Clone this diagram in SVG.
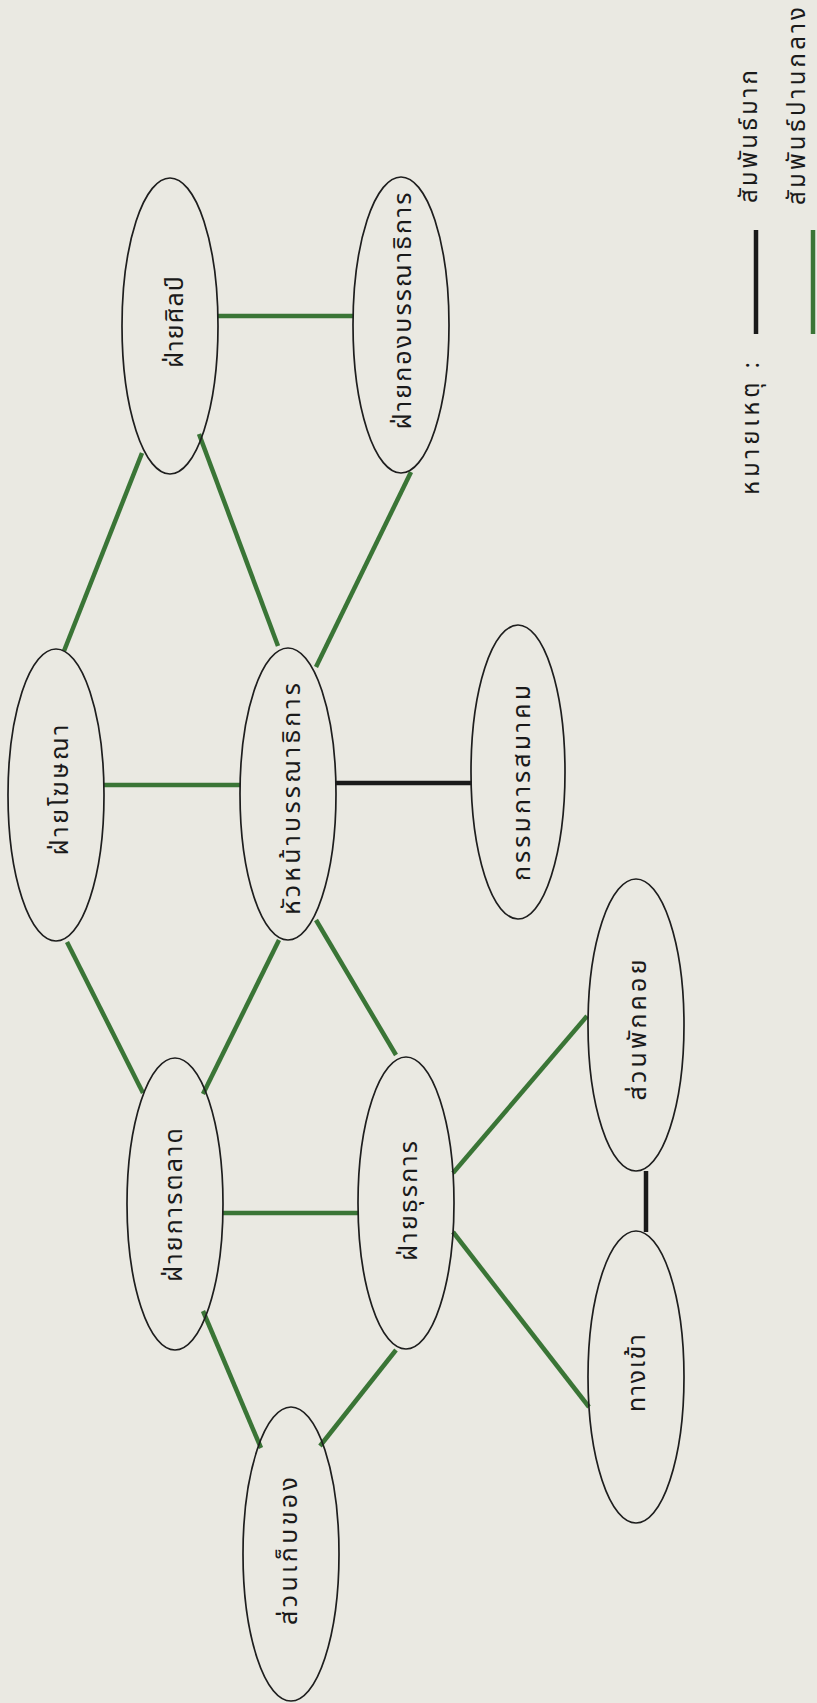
<svg xmlns="http://www.w3.org/2000/svg" width="817" height="1703" viewBox="0 0 817 1703">
<style>
.bg{fill:#eae9e2}
.node ellipse{fill:none;stroke:#1e1e1e;stroke-width:1.7}
.lbl{font-family:"Noto Sans Thai","Noto Sans","DejaVu Sans",sans-serif;font-size:25px;fill:#1a1a1a;text-anchor:middle}
.leg{font-family:"Noto Sans Thai","Noto Sans","DejaVu Sans",sans-serif;font-size:24px;fill:#1a1a1a;text-anchor:start}
.mid{stroke:#3a7536;stroke-width:4.5;stroke-linecap:butt;fill:none}
.high{stroke:#1a1a1a;stroke-width:4.5;stroke-linecap:butt;fill:none}
</style>
<rect class="bg" x="0" y="0" width="817" height="1703"/>
<g id="connectors">
<line class="mid" x1="218" y1="316" x2="353" y2="316"/>
<line class="mid" x1="142" y1="453" x2="64" y2="651"/>
<line class="mid" x1="199" y1="434" x2="278" y2="646"/>
<line class="mid" x1="411" y1="472" x2="316" y2="667"/>
<line class="mid" x1="104" y1="785" x2="240" y2="785"/>
<line class="high" x1="336" y1="783" x2="472" y2="783"/>
<line class="mid" x1="67" y1="942" x2="143" y2="1093"/>
<line class="mid" x1="279" y1="940" x2="203" y2="1094"/>
<line class="mid" x1="316" y1="920" x2="396" y2="1055"/>
<line class="mid" x1="223" y1="1213" x2="358" y2="1213"/>
<line class="mid" x1="453" y1="1173" x2="587" y2="1016"/>
<line class="mid" x1="453" y1="1232" x2="589" y2="1407"/>
<line class="mid" x1="203" y1="1311" x2="261" y2="1448"/>
<line class="mid" x1="396" y1="1350" x2="320" y2="1446"/>
<line class="high" x1="646" y1="1171" x2="646" y2="1232"/>
</g>
<g id="n-art" class="node"><ellipse cx="170" cy="326" rx="48" ry="148"/><text class="lbl" transform="translate(183,322) rotate(-90)" textLength="92">ฝ่ายศิลป์</text></g>
<g id="n-editorial" class="node"><ellipse cx="401" cy="325" rx="48" ry="148"/><text class="lbl" transform="translate(411,311) rotate(-90)" textLength="237">ฝ่ายกองบรรณาธิการ</text></g>
<g id="n-ads" class="node"><ellipse cx="56" cy="795" rx="48" ry="146"/><text class="lbl" transform="translate(68,790) rotate(-90)" textLength="131">ฝ่ายโฆษณา</text></g>
<g id="n-chief" class="node"><ellipse cx="288" cy="794" rx="48" ry="146"/><text class="lbl" transform="translate(300,799) rotate(-90)" textLength="232">หัวหน้าบรรณาธิการ</text></g>
<g id="n-board" class="node"><ellipse cx="518" cy="772" rx="47" ry="147"/><text class="lbl" transform="translate(530,783) rotate(-90)" textLength="196">กรรมการสมาคม</text></g>
<g id="n-lounge" class="node"><ellipse cx="636" cy="1025" rx="48" ry="146"/><text class="lbl" transform="translate(646,1030) rotate(-90)" textLength="141">ส่วนพักคอย</text></g>
<g id="n-marketing" class="node"><ellipse cx="175" cy="1204" rx="48" ry="146"/><text class="lbl" transform="translate(182,1205) rotate(-90)" textLength="154">ฝ่ายการตลาด</text></g>
<g id="n-admin" class="node"><ellipse cx="406" cy="1203" rx="48" ry="146"/><text class="lbl" transform="translate(417,1201) rotate(-90)" textLength="120">ฝ่ายธุรการ</text></g>
<g id="n-entrance" class="node"><ellipse cx="636" cy="1377" rx="48" ry="146"/><text class="lbl" transform="translate(645,1373) rotate(-90)" textLength="78">ทางเข้า</text></g>
<g id="n-storage" class="node"><ellipse cx="291" cy="1554" rx="48" ry="147"/><text class="lbl" transform="translate(297,1551) rotate(-90)" textLength="148">ส่วนเก็บของ</text></g>
<g id="legend">
<text class="leg" transform="translate(759,495) rotate(-90)" textLength="133">หมายเหตุ :</text>
<line class="high" x1="756" y1="230" x2="756" y2="334"/>
<text class="leg" transform="translate(757,203) rotate(-90)" textLength="133">สัมพันธ์มาก</text>
<line class="mid" x1="813" y1="230" x2="813" y2="334"/>
<text class="leg" transform="translate(805,205) rotate(-90)" font-size="23" textLength="198">สัมพันธ์ปานกลาง</text>
</g>
</svg>
